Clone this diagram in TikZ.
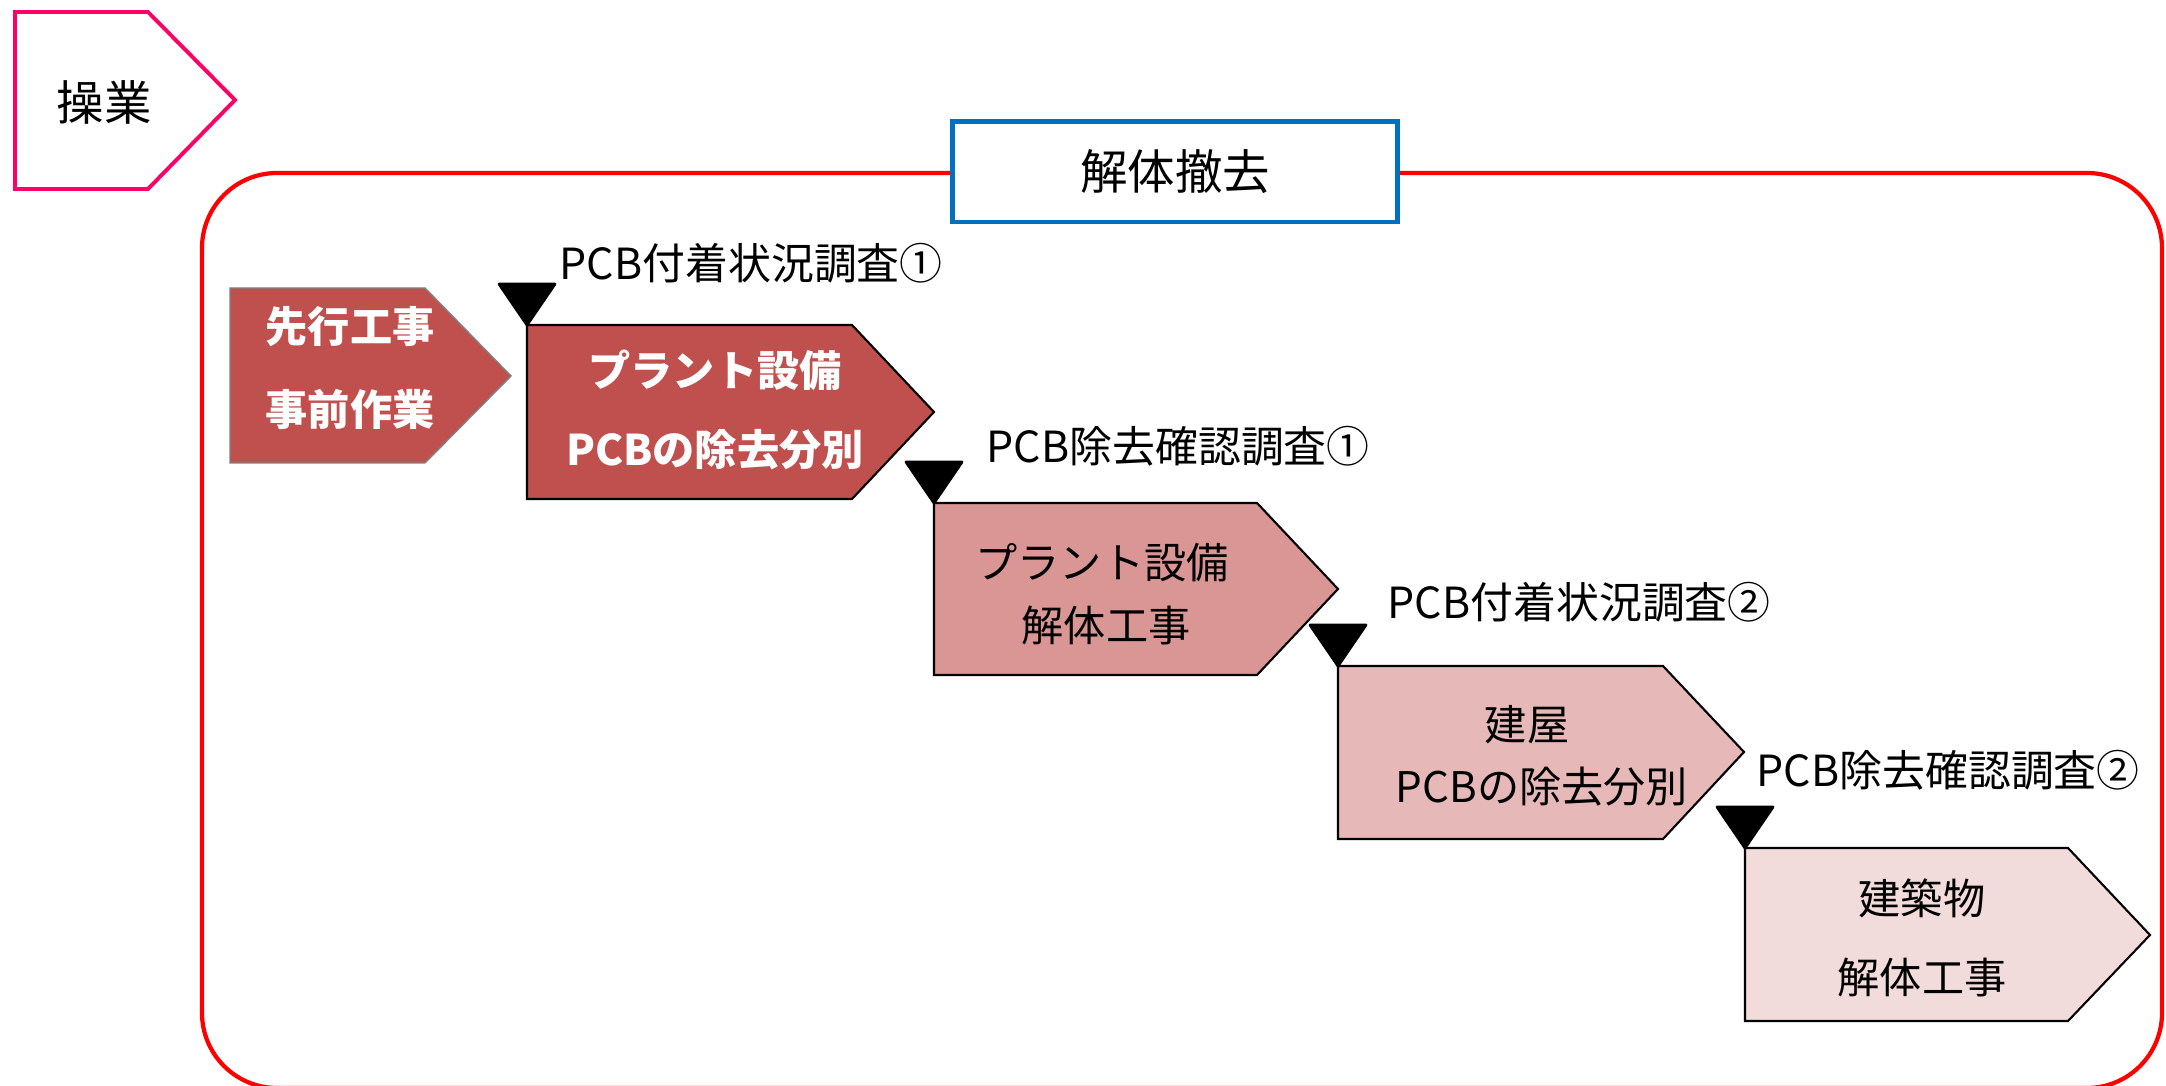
\documentclass[tikz,border=0pt]{standalone}
\usepackage{fontspec}
\setmainfont{Noto Sans CJK JP}
\usepackage{tikz}

\definecolor{opred}{HTML}{FF0066}
\definecolor{titleblue}{HTML}{0070C0}
\definecolor{stageA}{HTML}{C0504D}
\definecolor{stageB}{HTML}{D99694}
\definecolor{stageC}{HTML}{E6B9B8}
\definecolor{stageD}{HTML}{F2DCDB}

\tikzset{
	stagebox/.style={draw=black, line width=0.6pt},
	marker/.style={fill=black, draw=black, line width=0.8pt, line join=round},
	survey/.style={anchor=west, inner sep=0pt, font=\fontsize{12.2}{15}\selectfont},
	boxtext/.style={inner sep=0pt, font=\fontsize{12}{14}\selectfont},
	boldtext/.style={inner sep=0pt, text=white, font=\fontsize{12}{14}\selectfont\bfseries}
}

\begin{document}
\begin{tikzpicture}[x=0.01cm, y=-0.01cm]
		\clip (0,0) rectangle (2166,1086);
		\fill[white] (0,0) rectangle (2166,1086);
		% operation tag
		\draw[opred, line width=1.1pt] (15,12) -- (148,12) -- (235,100) -- (148,189) -- (15,189) -- cycle;
		\node[font=\fontsize{13.5}{15}\selectfont] (op) at (104,102) {操業};
		% frame and title
		\draw[red, line width=1.2pt, rounded corners=0.75cm] (202,173) rectangle (2162,1088);
		\node[draw=titleblue, line width=1.4pt, fill=white, minimum width=4.45cm, minimum height=1cm, font=\fontsize{13.5}{16}\selectfont] (title) at (1175,172) {解体撤去};
		% stages
		\filldraw[stageA, draw=gray, line width=0.4pt] (230,288) -- (425,288) -- (511,376) -- (425,463) -- (230,463) -- cycle;
		\node[boldtext] (pre1) at (350,327) {先行工事};
		\node[boldtext] (pre2) at (350,409) {事前作業};
		\filldraw[stagebox, fill=stageA] (527,325) -- (852,325) -- (934,412) -- (852,499) -- (527,499) -- cycle;
		\node[boldtext] (plant1) at (715,370) {プラント設備};
		\node[boldtext] (plant2) at (715,450) {PCBの除去分別};
		\filldraw[stagebox, fill=stageB] (934,503) -- (1257,503) -- (1338,589) -- (1257,675) -- (934,675) -- cycle;
		\node[boxtext] (demo1) at (1102,563) {プラント設備};
		\node[boxtext] (demo2) at (1106,626) {解体工事};
		\filldraw[stagebox, fill=stageC] (1338,666) -- (1663,666) -- (1744,752) -- (1663,839) -- (1338,839) -- cycle;
		\node[boxtext] (bldg1) at (1527,725) {建屋};
		\node[boxtext] (bldg2) at (1542,787) {PCBの除去分別};
		\filldraw[stagebox, fill=stageD] (1745,848) -- (2068,848) -- (2150,935) -- (2068,1021) -- (1745,1021) -- cycle;
		\node[boxtext] (arch1) at (1922,898) {建築物};
		\node[boxtext] (arch2) at (1922,978) {解体工事};
		% survey points
		\coordinate (t1) at (527,325);
		\coordinate (t2) at (934,503);
		\coordinate (t3) at (1338,666);
		\coordinate (t4) at (1745,848);
		\foreach \t in {t1,t2,t3,t4}
			\filldraw[marker] (\t) -- ++(-28,-41) -- ++(56,0) -- cycle;
		\node[survey] (s1) at (559,263) {PCB付着状況調査①};
		\node[survey] (s2) at (986,446) {PCB除去確認調査①};
		\node[survey] (s3) at (1387,602) {PCB付着状況調査②};
		\node[survey] (s4) at (1756,770) {PCB除去確認調査②};
		\end{tikzpicture}
\end{document}
